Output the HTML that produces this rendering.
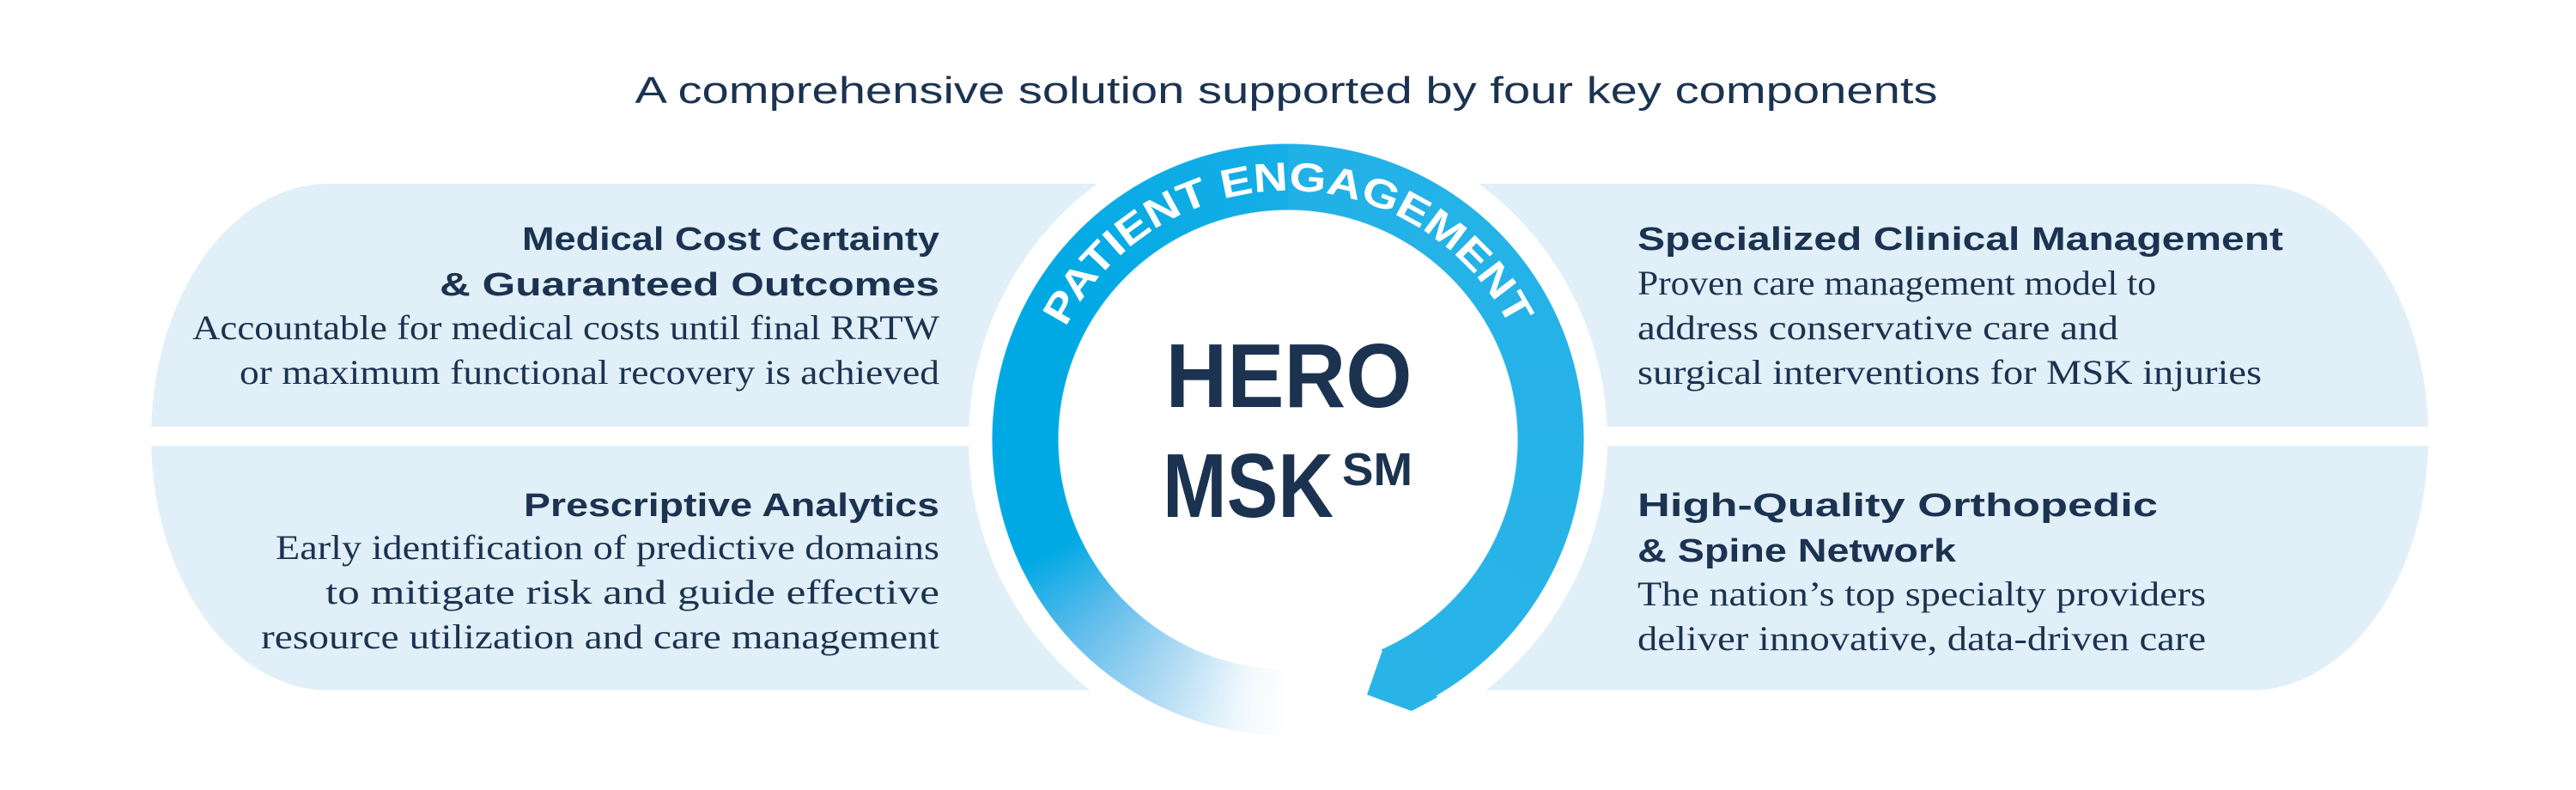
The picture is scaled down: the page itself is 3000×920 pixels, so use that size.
<!DOCTYPE html>
<html><head><meta charset="utf-8"><style>
html,body{margin:0;padding:0;background:#fff;}
#wrap{position:relative;width:3000px;height:920px;overflow:hidden;}
svg{position:absolute;left:0;top:0;}
#ring{position:absolute;left:1155px;top:167px;width:690px;height:690px;border-radius:50%;
background:conic-gradient(from 0deg,#22b1e7 0deg,#29b4e8 156deg,rgba(255,255,255,0) 156deg,rgba(255,255,255,0) 180deg,rgba(230,243,252,0.6) 190deg,#a6d6f2 210deg,#5cbbeb 228deg,#00a9e4 245deg,#00a9e4 300deg,#16aee6 360deg);
-webkit-mask:radial-gradient(circle at center,transparent 267px,#000 268px,#000 344px,transparent 345px);
mask:radial-gradient(circle at center,transparent 267px,#000 268px,#000 344px,transparent 345px);}
</style></head><body><div id="wrap">
<svg width="3000" height="920" xmlns="http://www.w3.org/2000/svg">
<g fill="#e1eff9">
<path d="M1500,214 L383,214 A207,295 0 0 0 383,804 L1500,804 Z"/>
<path d="M1500,214 L2621,214 A207,295 0 0 1 2621,804 L1500,804 Z"/>
</g>
<rect x="0" y="497" width="3000" height="22" fill="#fff"/>
<circle cx="1500" cy="512" r="372" fill="#fff"/>
<g font-family="'Liberation Sans',sans-serif" fill="#1b3350">
<text x="1498" y="120" font-size="44" text-anchor="middle" textLength="1517" lengthAdjust="spacingAndGlyphs">A comprehensive solution supported by four key components</text>
<g font-weight="bold" font-size="38" text-anchor="end">
<text x="1094" y="291" textLength="486" lengthAdjust="spacingAndGlyphs">Medical Cost Certainty</text>
<text x="1094" y="344" textLength="582" lengthAdjust="spacingAndGlyphs">&amp; Guaranteed Outcomes</text>
<text x="1094" y="601" textLength="484" lengthAdjust="spacingAndGlyphs">Prescriptive Analytics</text>
</g>
<g font-weight="bold" font-size="38">
<text x="1907" y="291" textLength="752" lengthAdjust="spacingAndGlyphs">Specialized Clinical Management</text>
<text x="1907" y="601" textLength="606" lengthAdjust="spacingAndGlyphs">High-Quality Orthopedic</text>
<text x="1907" y="654" textLength="371" lengthAdjust="spacingAndGlyphs">&amp; Spine Network</text>
</g>
</g>
<g font-family="'Liberation Serif',serif" fill="#1b3350" font-size="40">
<g text-anchor="end">
<text x="1094" y="395" textLength="870" lengthAdjust="spacingAndGlyphs">Accountable for medical costs until final RRTW</text>
<text x="1094" y="447" textLength="815" lengthAdjust="spacingAndGlyphs">or maximum functional recovery is achieved</text>
<text x="1094" y="651" textLength="773" lengthAdjust="spacingAndGlyphs">Early identification of predictive domains</text>
<text x="1094" y="703" textLength="715" lengthAdjust="spacingAndGlyphs">to mitigate risk and guide effective</text>
<text x="1094" y="755" textLength="790" lengthAdjust="spacingAndGlyphs">resource utilization and care management</text>
</g>
<text x="1907" y="343" textLength="604" lengthAdjust="spacingAndGlyphs">Proven care management model to</text>
<text x="1907" y="395" textLength="560" lengthAdjust="spacingAndGlyphs">address conservative care and</text>
<text x="1907" y="447" textLength="727" lengthAdjust="spacingAndGlyphs">surgical  interventions for MSK injuries</text>
<text x="1907" y="705" textLength="662" lengthAdjust="spacingAndGlyphs">The nation’s top specialty providers</text>
<text x="1907" y="757" textLength="662" lengthAdjust="spacingAndGlyphs">deliver innovative, data-driven care</text>
</g>
</svg>
<div id="ring"></div>
<svg width="3000" height="920" xmlns="http://www.w3.org/2000/svg">
<polygon points="1609,760 1592,809 1644,828 1674,812 1636,744" fill="#29b4e8"/>
<defs><path id="arc" d="M1210,512 A290,290 0 0 1 1790,512"/></defs>
<text font-family="'Liberation Sans',sans-serif" font-weight="bold" font-size="47" fill="#fff" text-anchor="middle"><textPath href="#arc" startOffset="50%" textLength="640" lengthAdjust="spacingAndGlyphs">PATIENT ENGAGEMENT</textPath></text>
<g font-family="'Liberation Sans',sans-serif" font-weight="bold" fill="#1b3350">
<text x="1501" y="474" font-size="106" text-anchor="middle" textLength="287" lengthAdjust="spacingAndGlyphs">HERO</text>
<text x="1354" y="602" font-size="106" textLength="199" lengthAdjust="spacingAndGlyphs">MSK</text>
<text x="1563" y="565" font-size="54" textLength="82" lengthAdjust="spacingAndGlyphs">SM</text>
</g>
</svg>
</div></body></html>
